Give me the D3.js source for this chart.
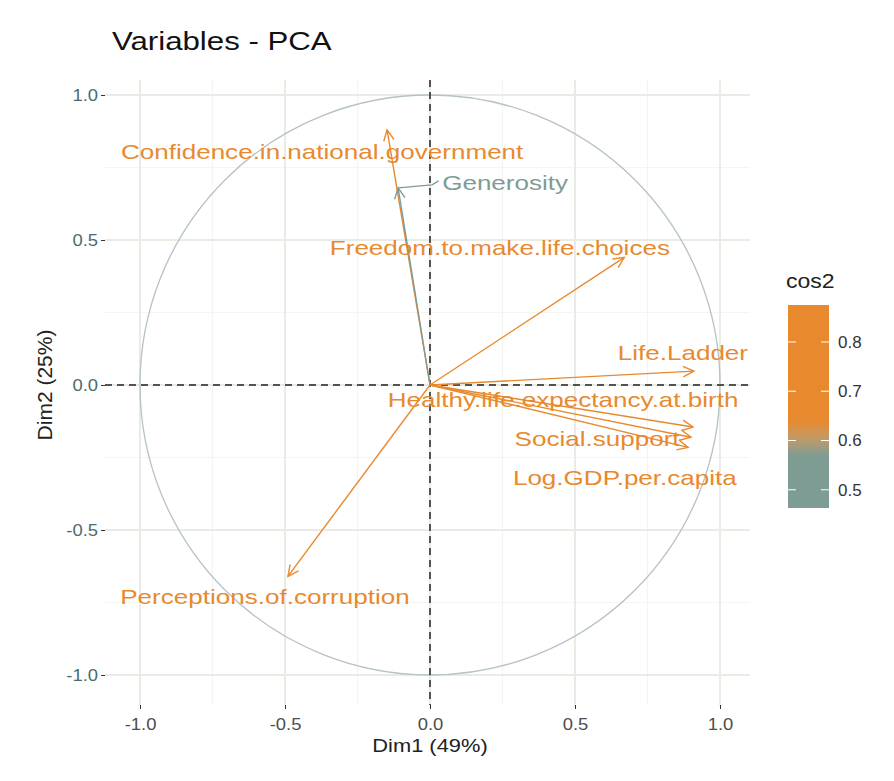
<!DOCTYPE html>
<html><head><meta charset="utf-8">
<script src="https://cdn.jsdelivr.net/npm/d3@7"></script>
<style>body{margin:0;background:#fff;font-family:"Liberation Sans",Arial,sans-serif}</style>
</head><body><div class="chart"></div>
<script>
const names = ['Confidence.in.national.government','Generosity','Freedom.to.make.life.choices','Life.Ladder',
  'Healthy.life.expectancy.at.birth','Social.support','Log.GDP.per.capita','Perceptions.of.corruption'];
const dim1 = [-0.148, -0.11, 0.67, 0.91, 0.907, 0.90, 0.89, -0.49];
const dim2 = [0.88, 0.68, 0.44, 0.048, -0.145, -0.18, -0.215, -0.66];
// repelled label anchors (data units)
const labX = [-0.372, 0.259, 0.241, 0.872, 0.459, 0.576, 0.672, -0.569];
const labY = [0.803, 0.697, 0.472, 0.110, -0.052, -0.186, -0.321, -0.731];
const ticks = [-1, -0.5, 0, 0.5, 1];
const legendTicks = [0.5, 0.6, 0.7, 0.8];

const width = 894, height = 781;
const svg = d3.select('.chart').append('svg').attr('width', width).attr('height', height);
const x = d3.scaleLinear().domain([-1, 1]).range([140, 720]);
const y = d3.scaleLinear().domain([-1, 1]).range([675, 95]);
const px0 = 105, px1 = 750, py0 = 80, py1 = 705;
const col = d3.scaleLinear().domain([0.463, 0.57, 0.605, 0.64, 0.875])
  .range(['#7d9c95', '#7f9c93', '#c49a66', '#e8892e', '#e8892e']);
const fmt = v => d3.format('.1f')(v).replace('−', '-');

const cos2 = dim1.map((d, i) => d * d + dim2[i] * dim2[i]);

// stretch text horizontally like the reference
function wide(sel, k) {
  sel.each(function () {
    const len = this.getComputedTextLength();
    d3.select(this).attr('textLength', len * k).attr('lengthAdjust', 'spacingAndGlyphs');
  });
}

// grid
const minor = [-0.75, -0.25, 0.25, 0.75];
const g = svg.append('g');
minor.forEach(v => {
  g.append('line').attr('x1', x(v)).attr('x2', x(v)).attr('y1', py0).attr('y2', py1).attr('stroke', '#f4f4f0').attr('stroke-width', 1.2);
  g.append('line').attr('y1', y(v)).attr('y2', y(v)).attr('x1', px0).attr('x2', px1).attr('stroke', '#f4f4f0').attr('stroke-width', 1.2);
});
ticks.forEach(v => {
  g.append('line').attr('x1', x(v)).attr('x2', x(v)).attr('y1', py0).attr('y2', py1).attr('stroke', '#ebebe6').attr('stroke-width', 2);
  g.append('line').attr('y1', y(v)).attr('y2', y(v)).attr('x1', px0).attr('x2', px1).attr('stroke', '#ebebe6').attr('stroke-width', 2);
});

// circle
svg.append('circle').attr('cx', x(0)).attr('cy', y(0)).attr('r', x(1) - x(0))
  .attr('fill', 'none').attr('stroke', '#b5c2c6').attr('stroke-width', 1.3);

// axes
const xa = svg.append('g').attr('transform', `translate(0,${py1})`)
  .call(d3.axisBottom(x).tickValues(ticks).tickFormat(fmt).tickSize(4));
const ya = svg.append('g').attr('transform', `translate(${px0},0)`)
  .call(d3.axisLeft(y).tickValues(ticks).tickFormat(fmt).tickSize(4));
[xa, ya].forEach(a => {
  a.select('.domain').remove();
  a.selectAll('line').attr('stroke', '#333');
  a.selectAll('text').attr('fill', '#4d4d4d').style('font-size', '16px');
  wide(a.selectAll('text'), 1.15);
});
ya.selectAll('text').attr('fill', '#4a6d6a');
xa.selectAll('text').attr('dy', '1.1em');

// dashed zero lines
svg.append('line').attr('x1', x(0)).attr('x2', x(0)).attr('y1', py0).attr('y2', py1)
  .attr('stroke', '#222').attr('stroke-dasharray', '7,5').attr('stroke-width', 1.5);
svg.append('line').attr('y1', y(0)).attr('y2', y(0)).attr('x1', px0).attr('x2', px1)
  .attr('stroke', '#222').attr('stroke-dasharray', '7,5').attr('stroke-width', 1.5);

// arrows
names.forEach((n, i) => {
  const c = col(cos2[i]);
  const x1 = x(dim1[i]), y1 = y(dim2[i]), x0 = x(0), y0 = y(0);
  const a = Math.atan2(y1 - y0, x1 - x0), L = 12, w = 0.45;
  svg.append('line').attr('x1', x0).attr('y1', y0).attr('x2', x1).attr('y2', y1).attr('stroke', c).attr('stroke-width', 1.4);
  svg.append('path').attr('d', `M${x1 - L * Math.cos(a - w)},${y1 - L * Math.sin(a - w)}L${x1},${y1}L${x1 - L * Math.cos(a + w)},${y1 - L * Math.sin(a + w)}`)
    .attr('fill', 'none').attr('stroke', c).attr('stroke-width', 1.4);
});
// generosity leader segment
svg.append('path').attr('d', `M${x(0.03)},${y(labY[1]) - 2}L${x(0) + 2},${y(labY[1]) + 2}L${x(dim1[1])},${y(dim2[1])}`)
  .attr('fill', 'none').attr('stroke', col(cos2[1])).attr('stroke-width', 1.3);

const labs = svg.selectAll('text.lab').data(names).join('text').attr('class', 'lab')
  .attr('x', (d, i) => x(labX[i])).attr('y', (d, i) => y(labY[i])).attr('dy', '0.35em')
  .attr('text-anchor', 'middle').attr('fill', (d, i) => col(cos2[i])).style('font-size', '21px').text(d => d);
wide(labs, 1.24);

// titles
const t1 = svg.append('text').attr('x', 112).attr('y', 50).style('font-size', '26px').attr('fill', '#111').text('Variables - PCA');
wide(t1, 1.2);
const t2 = svg.append('text').attr('x', x(0)).attr('y', 752).attr('text-anchor', 'middle').style('font-size', '19px').attr('fill', '#222').text('Dim1 (49%)');
wide(t2, 1.15);
const t3 = svg.append('text').attr('transform', `translate(52,${y(0)}) rotate(-90)`).attr('text-anchor', 'middle').style('font-size', '21px').attr('fill', '#222').text('Dim2 (25%)');

// legend
const ly = d3.scaleLinear().domain([0.463, 0.875]).range([508, 305]);
const defs = svg.append('defs');
const grad = defs.append('linearGradient').attr('id', 'gr').attr('x1', 0).attr('x2', 0).attr('y1', 1).attr('y2', 0);
d3.range(0, 1.001, 0.02).forEach(t => {
  const v = 0.463 + t * (0.875 - 0.463);
  grad.append('stop').attr('offset', t).attr('stop-color', col(v));
});
const t4 = svg.append('text').attr('x', 786).attr('y', 288).style('font-size', '20px').attr('fill', '#222').text('cos2');
wide(t4, 1.15);
svg.append('rect').attr('x', 788).attr('y', 305).attr('width', 41).attr('height', 203).attr('fill', 'url(#gr)');
legendTicks.forEach(v => {
  svg.append('line').attr('x1', 788).attr('x2', 796).attr('y1', ly(v)).attr('y2', ly(v)).attr('stroke', '#fff');
  svg.append('line').attr('x1', 821).attr('x2', 829).attr('y1', ly(v)).attr('y2', ly(v)).attr('stroke', '#fff');
  svg.append('text').attr('x', 838).attr('y', ly(v)).attr('dy', '0.35em').style('font-size', '17px').attr('fill', '#333').text(v.toFixed(1));
});
</script></body></html>
